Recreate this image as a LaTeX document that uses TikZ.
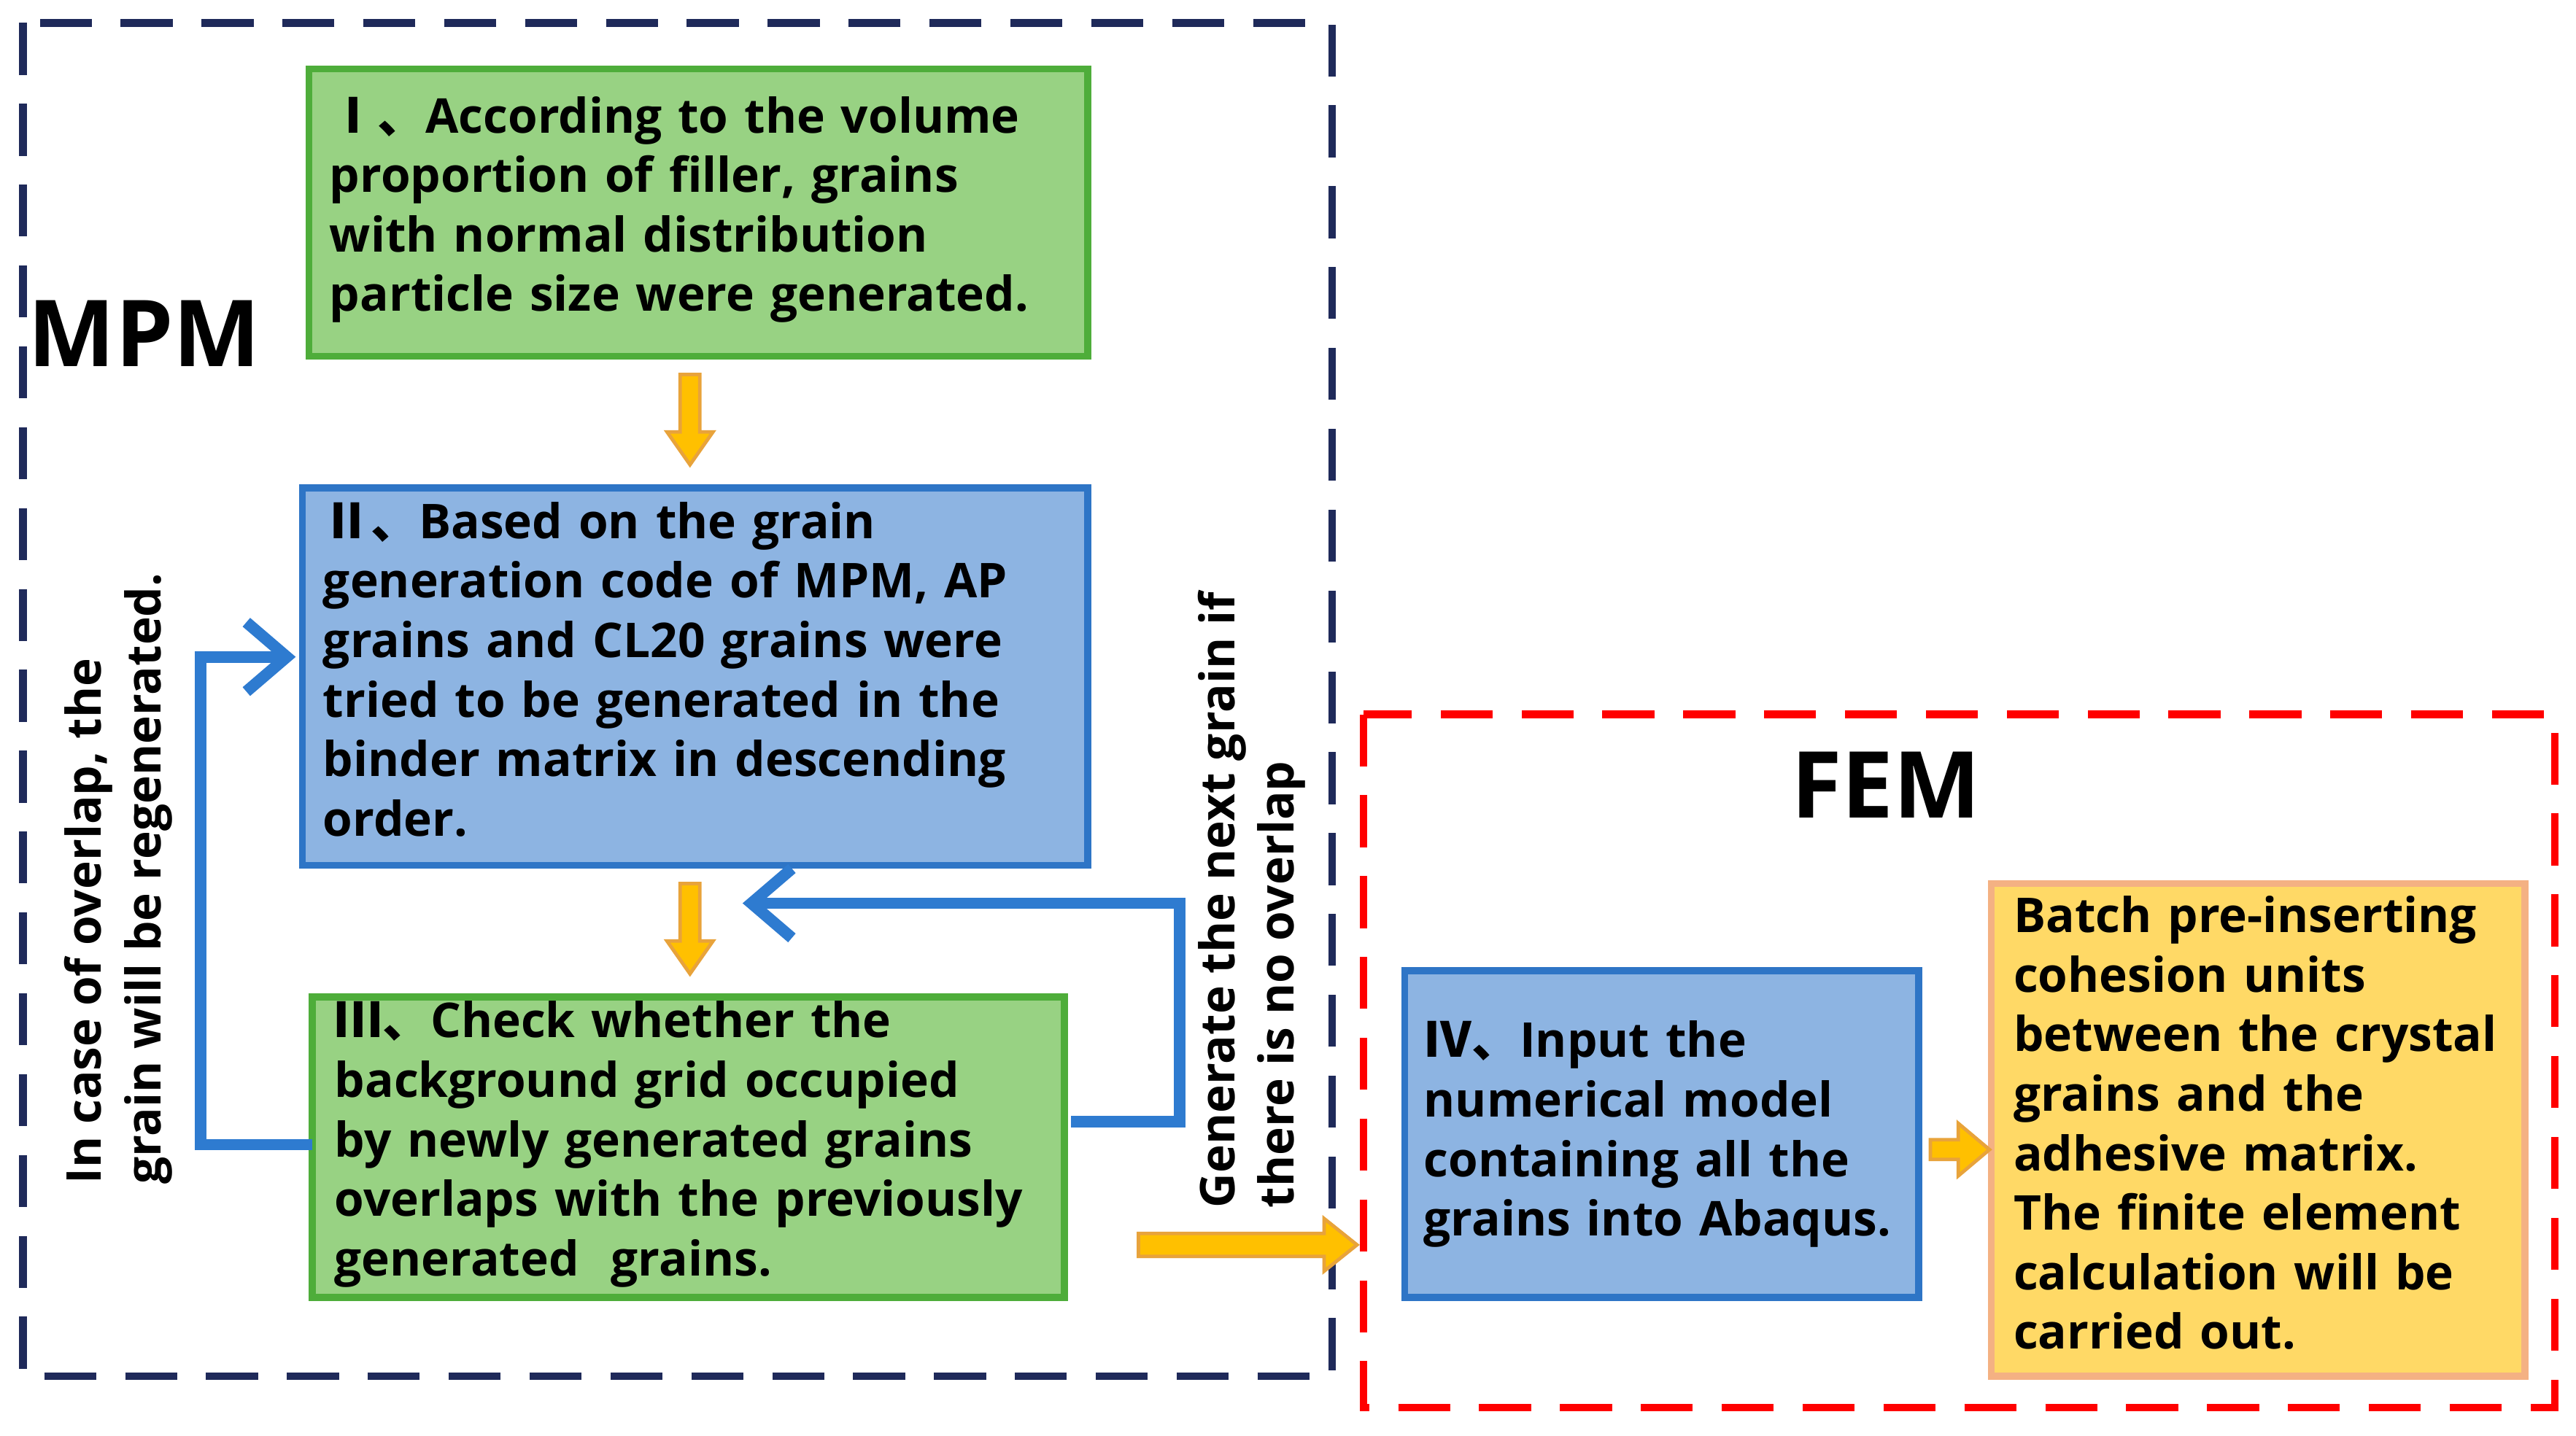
\documentclass[tikz,border=0pt]{standalone}
\usepackage{fontspec}
\setmainfont{Open Sans}
\newfontfamily\cjk{Noto Sans CJK SC}
\usetikzlibrary{arrows.meta}
\definecolor{gfill}{HTML}{98D283}\definecolor{gline}{HTML}{4EAD3A}
\definecolor{bfill}{HTML}{8DB4E2}\definecolor{bline}{HTML}{2E75C6}
\definecolor{yfill}{HTML}{FFD966}\definecolor{yline}{HTML}{F4B183}
\definecolor{navy}{HTML}{1F2A5A}\definecolor{conn}{HTML}{2E7BD0}
\definecolor{arrY}{HTML}{FFC000}\definecolor{arrO}{HTML}{E8A33B}
\newcommand{\rn}[1]{{\cjk #1}}
\hyphenpenalty=10000
\exhyphenpenalty=10000
\begin{document}
\begin{tikzpicture}[x=0.01cm,y=-0.01cm,
 frame/.style={line width=1.2pt},
 txt/.style={anchor=north west,align=left,font=\bfseries\fontsize{8.3}{10.3}\selectfont,inner sep=0pt},
 yarr/.style={draw=arrO,fill=arrY,line width=0.6pt},
 lp/.style={draw=conn,line width=2pt},
 lbl/.style={font=\bfseries\fontsize{8.3}{10.3}\selectfont,align=left,rotate=90}]
\useasboundingbox (0,0) rectangle (1568,874);
\draw[navy,line width=1.3pt,dash pattern=on 9pt off 5pt] (14,14) rectangle (811,838);
\draw[red,line width=1.3pt,dash pattern=on 9pt off 5pt] (830,435) rectangle (1555,857);
\node[font=\bfseries\fontsize{16}{20}\selectfont] (mpm) at (88,203) {MPM};
\node[font=\bfseries\fontsize{16}{20}\selectfont] (fem) at (1148,478) {FEM};
\draw[frame,draw=gline,fill=gfill] (188,42) rectangle (662,217);
\node[txt,text width=4.55cm] (t1) at (200,58) {\rn{Ⅰ、}According to the volume proportion of filler, grains with normal distribution particle size were generated.};
\draw[frame,draw=bline,fill=bfill] (184,297) rectangle (662,527);
\node[txt,text width=4.5cm] (t2) at (196,305) {\rn{Ⅱ、}Based on the grain generation code of MPM, AP grains and CL20 grains were tried to be generated in the binder matrix in descending order.};
\draw[frame,draw=gline,fill=gfill] (190,607) rectangle (648,790);
\node[txt,text width=4.35cm] (t3) at (203,609) {\rn{Ⅲ、}Check whether the background grid occupied by newly generated grains overlaps with the previously generated\ \ grains.};
\draw[frame,draw=bline,fill=bfill] (855,591) rectangle (1168,790);
\node[txt,text width=3.0cm] (t4) at (866,621) {\rn{Ⅳ、}Input the numerical model containing all the grains into Abaqus.};
\draw[frame,draw=yline,fill=yfill] (1212,538) rectangle (1537,838);
\node[txt,text width=3.05cm] (t5) at (1225,545) {Batch pre-inserting cohesion units between the crystal grains and the adhesive matrix. The finite element calculation will be carried out.};
% yellow block arrows
\draw[yarr] (414,228)--(426,228)--(426,263)--(434,263)--(420,283)--(406,263)--(414,263)--cycle;
\draw[yarr] (414,538)--(426,538)--(426,573)--(434,573)--(420,593)--(406,573)--(414,573)--cycle;
\draw[yarr] (1175,694)--(1192,694)--(1192,684)--(1211,700)--(1192,716)--(1192,706)--(1175,706)--cycle;
\draw[yarr] (693,751)--(806,751)--(806,742)--(826,758)--(806,774)--(806,765)--(693,765)--cycle;
\coordinate (l1) at (190,697); \coordinate (l2) at (122,697); \coordinate (l3) at (122,400); \coordinate (l4) at (180,400);
\draw[lp,-{Straight Barb[length=7pt,width=12pt]}] (l1)--(l2)--(l3)--(l4);
\coordinate (r1) at (652,683); \coordinate (r2) at (718,683); \coordinate (r3) at (718,550); \coordinate (r4) at (452,550);
\draw[lp,-{Straight Barb[length=7pt,width=12pt]}] (r1)--(r2)--(r3)--(r4);
\node[lbl] (L) at (72,535) {In case of overlap, the\\grain will be regenerated.};
\node[lbl] (R) at (762,548) {Generate the next grain if\\there is no overlap};
\end{tikzpicture}
\end{document}
